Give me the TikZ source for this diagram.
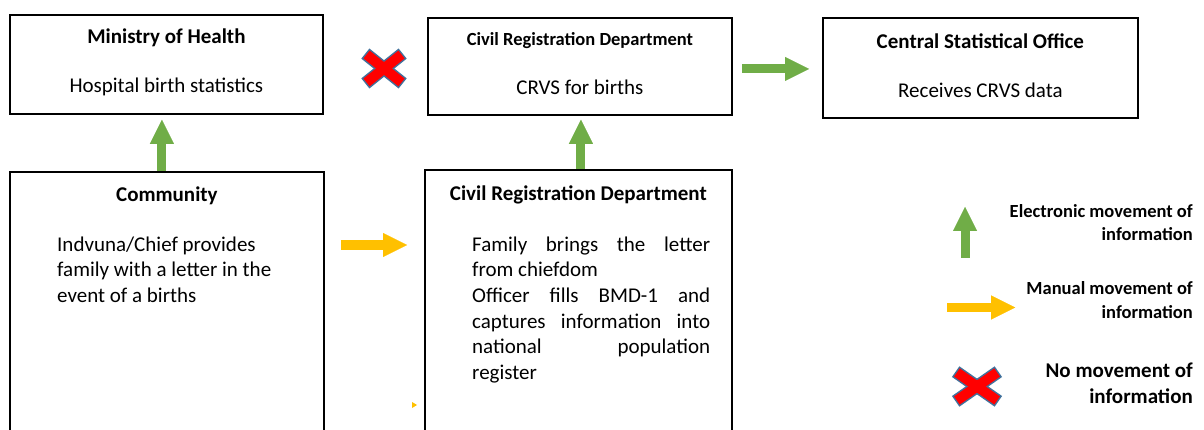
\documentclass[tikz,border=0pt]{standalone}
\usepackage{fontspec}
\setmainfont{Carlito}
\usetikzlibrary{arrows.meta,positioning}
\definecolor{crvsgreen}{RGB}{112,173,71}
\definecolor{crvsyellow}{RGB}{255,192,0}
\definecolor{crvsred}{RGB}{255,0,0}
\definecolor{crvsblue}{RGB}{65,113,156}
\newlength{\crdw}
\setlength{\crdw}{238pt}
\tikzset{
  box/.style={
    rectangle, draw=black, line width=1.8pt, anchor=north west, inner sep=0pt
  },
  title/.style={
    font=\fontsize{21}{26}\selectfont\bfseries, inner sep=0pt, anchor=base
  },
  titleS/.style={
    title, font=\fontsize{18.5}{24}\selectfont\bfseries
  },
  body/.style={
    font=\fontsize{21}{25.7}\selectfont, inner sep=0pt, anchor=base
  },
  legS/.style={
    font=\fontsize{18.5}{24}\selectfont\bfseries, inner sep=0pt,
    align=right, anchor=base east
  },
  legL/.style={
    legS, font=\fontsize{21}{26}\selectfont\bfseries
  },
  garrow/.style={
    line width=9pt, draw=crvsgreen,
    -{Triangle[length=24pt, width=24pt, line width=0.01pt]}
  },
  yarrow/.style={garrow, line width=10pt, draw=crvsyellow},
  xout/.style={line width=13pt, draw=crvsblue, shorten <=-1.5pt, shorten >=-1.5pt},
  xin/.style={line width=10pt, draw=crvsred},
  nomove/.pic={
    \draw[xout] (-17.5,-14) -- (17.5,14);
    \draw[xout] (-17.5,14) -- (17.5,-14);
    \draw[xin] (-17.5,-14) -- (17.5,14);
    \draw[xin] (-17.5,14) -- (17.5,-14);
  }
}

\begin{document}
\begin{tikzpicture}[x=1pt, y=-1pt]
  \clip (0,0) rectangle (1204,430);

  % top row
  \node[box, minimum width=313pt, minimum height=99pt]  (moh)  at (9,14)   {};
  \node[box, minimum width=304pt, minimum height=97pt]  (crdt) at (427,17) {};
  \node[box, minimum width=315pt, minimum height=100pt] (cso)  at (822,17) {};

  \node[title]  (mohT)  at ([yshift=-30pt]moh.north)  {Ministry of Health};
  \node[body]   (mohB)  at ([yshift=-79pt]moh.north)  {Hospital birth statistics};
  \node[titleS] (crdtT) at ([yshift=-29pt]crdt.north) {Civil Registration Department};
  \node[body]   (crdtB) at ([yshift=-78pt]crdt.north) {CRVS for births};
  \node[title]  (csoT)  at ([yshift=-32pt]cso.north)  {Central Statistical Office};
  \node[body]   (csoB)  at ([yshift=-81pt]cso.north)  {Receives CRVS data};

  % bottom row (last line sits on the base anchor)
  \node[box, minimum width=314pt, minimum height=280pt] (comm) at (9,171)   {};
  \node[box, minimum width=307pt, minimum height=280pt] (crdb) at (424,169) {};

  \node[title] (commT) at ([yshift=-31pt]comm.north) {Community};
  \node[body, anchor=base west, align=left] (commB) at (57,302.5)
    {Indvuna/Chief provides\\family with a letter in the\\event of a births};
  \node[title] (crdbT) at ([yshift=-32pt]crdb.north) {Civil Registration Department};
  \node[body, anchor=base west, align=left] (crdbB) at (472,379.5)
    {\makebox[\crdw][s]{Family brings the letter}\\
     from chiefdom\\
     \makebox[\crdw][s]{Officer fills BMD-1 and}\\
     \makebox[\crdw][s]{captures information into}\\
     \makebox[\crdw][s]{national population}\\
     register};

  % flows
  \draw[garrow, shorten >=5pt] ([xshift=-5pt]comm.north) -- ([xshift=-5pt]comm.north |- moh.south);
  \draw[garrow, shorten >=4pt] ([xshift=2.5pt]crdb.north) -- ([xshift=2.5pt]crdb.north |- crdt.south);
  \draw[garrow, shorten <=9pt, shorten >=13pt] ([yshift=-1pt]cso.west -| crdt.east) -- ([yshift=-1pt]cso.west);
  \draw[yarrow, shorten <=16pt, shorten >=17pt] ([yshift=-74pt]comm.north east) -- ([yshift=-74pt]comm.north east -| crdb.west);
  \pic at (384,68.5) {nomove};
  \fill[crvsyellow] (412,402) -- (417,405) -- (412,408) -- cycle;

  % legend
  \coordinate (legG) at (965,258);
  \draw[garrow] (legG) -- ++(0,-51);
  \node[legS] (legE) at (1193,241) {Electronic movement of\\information};
  \coordinate (legY) at (947,307.5);
  \draw[yarrow, line width=9pt] (legY) -- ++(68,0);
  \node[legS] (legM) at (1193,318.5) {Manual movement of\\information};
  \pic[xscale=1.15] at (977,386.5) {nomove};
  \node[legL] (legN) at (1193,403) {No movement of\\information};
\end{tikzpicture}
\end{document}
